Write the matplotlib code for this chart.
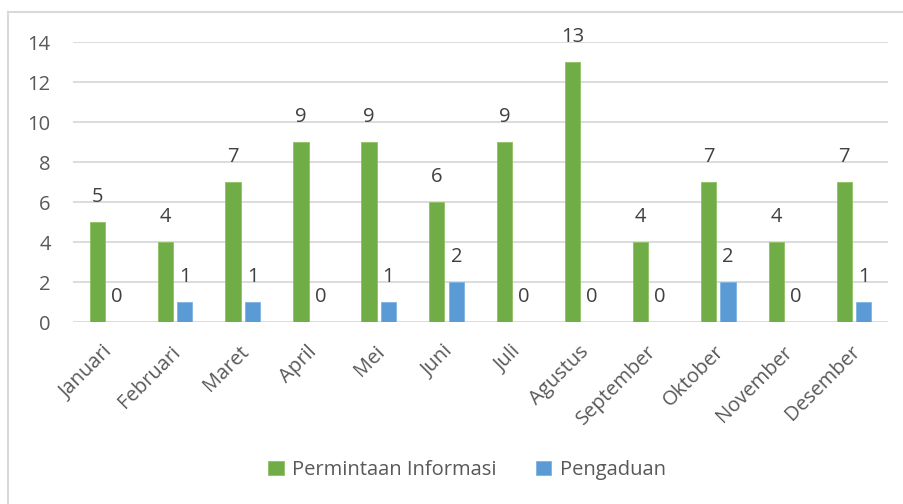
import numpy as np
import matplotlib.pyplot as plt
import matplotlib.transforms as mtransforms
from matplotlib.lines import Line2D

# data
months = ["Januari", "Februari", "Maret", "April", "Mei", "Juni", "Juli",
          "Agustus", "September", "Oktober", "November", "Desember"]
permintaan = [5, 4, 7, 9, 9, 6, 9, 13, 4, 7, 4, 7]
pengaduan = [0, 1, 1, 0, 1, 2, 0, 0, 0, 2, 0, 1]
yticks = [0, 2, 4, 6, 8, 10, 12, 14]

green = "#70AD47"
blue = "#5B9BD5"
txt = "#595959"
grid = "#D9D9D9"

plt.rcParams['font.family'] = ['Open Sans', 'DejaVu Sans']

fig = plt.figure(figsize=(9.04, 5.04), dpi=100)
ax = fig.add_axes([73 / 904, 1 - 322 / 504, 815 / 904, 280 / 504])

x = np.arange(len(months))
w = 0.225
off = 0.143
b1 = ax.bar(x - off, permintaan, w, color=green, edgecolor="#8CC063", linewidth=0.6,
            label="Permintaan Informasi", zorder=3)
b2 = ax.bar(x + off, pengaduan, w, color=blue, edgecolor="#7FB2E0", linewidth=0.6,
            label="Pengaduan", zorder=3)

for bars in (b1, b2):
    for r in bars:
        h = r.get_height()
        ax.annotate(str(int(h)), (r.get_x() + r.get_width() / 2, h),
                    xytext=(0, 10.5), textcoords="offset points",
                    ha="center", va="bottom", fontsize=14.5, color="#404040")

ax.set_xlim(-0.5, len(months) - 0.5)
ax.set_ylim(0, 14)
ax.set_yticks(yticks)
ax.yaxis.grid(True, color=grid, linewidth=1.3, zorder=0)
ax.set_axisbelow(True)
for s in ax.spines.values():
    s.set_visible(False)
ax.tick_params(axis="both", length=0, colors=txt, labelsize=14.5)
ax.tick_params(axis="y", pad=16)
ax.set_xticks(x)
ax.set_xticklabels(months, rotation=45, ha="right", rotation_mode="anchor")
ax.tick_params(axis="x", pad=10)
shift = mtransforms.ScaledTranslation(-4 / 100, -6 / 100, fig.dpi_scale_trans)
for lbl in ax.get_xticklabels():
    lbl.set_transform(lbl.get_transform() + shift)

leg = fig.legend(handles=[b1, b2], loc="center", bbox_to_anchor=(467 / 904, 1 - 470 / 504),
                 ncol=2, frameon=False, fontsize=14.5, handlelength=0.75,
                 handleheight=0.75, handletextpad=0.4, columnspacing=2.0)
for t in leg.get_texts():
    t.set_color(txt)

# chart border (top and left edges visible)
fig.add_artist(Line2D([8 / 904, 8 / 904], [0, 1 - 12 / 504], color=grid,
                      linewidth=1.5, transform=fig.transFigure))
fig.add_artist(Line2D([8 / 904, 1], [1 - 12 / 504, 1 - 12 / 504], color=grid,
                      linewidth=1.5, transform=fig.transFigure))

fig.savefig("out.png", dpi=100)
